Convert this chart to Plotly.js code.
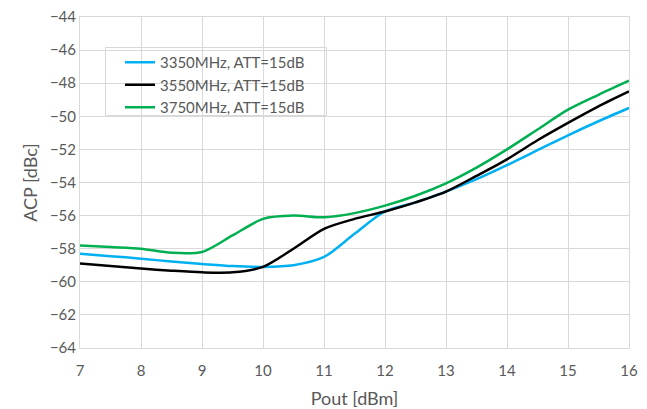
<!DOCTYPE html>
<html>
<head>
<meta charset="utf-8">
<script src="https://cdn.plot.ly/plotly-3.0.1.min.js"></script>
<style>html,body{margin:0;padding:0;background:#fff;}#chart{width:647px;height:409px;}</style>
</head>
<body>
<div id="chart"></div>
<script>
const pout = [7, 7.5, 8, 8.5, 9, 9.5, 10, 10.5, 11, 11.5, 12, 12.5, 13, 13.5, 14, 14.5, 15, 15.5, 16];
const acp3350 = [-58.3, -58.45, -58.6, -58.78, -58.92, -59.05, -59.1, -59.0, -58.5, -57.1, -55.75, -55.2, -54.55, -53.8, -52.95, -52.05, -51.15, -50.3, -49.5];
const acp3550 = [-58.9, -59.05, -59.2, -59.33, -59.43, -59.43, -59.1, -58.0, -56.8, -56.2, -55.75, -55.2, -54.55, -53.6, -52.6, -51.45, -50.4, -49.4, -48.5];
const acp3750 = [-57.8, -57.9, -58.0, -58.25, -58.2, -57.2, -56.2, -56.0, -56.1, -55.85, -55.4, -54.8, -54.05, -53.1, -52.0, -50.8, -49.6, -48.7, -47.85];
const names = ["3350MHz, ATT=15dB", "3550MHz, ATT=15dB", "3750MHz, ATT=15dB"];
const colors = ["#00b0f0", "#000000", "#00b050"];
const series = [acp3350, acp3550, acp3750];

const traces = series.map((s, i) => ({
  x: pout, y: s, name: names[i], type: "scatter", mode: "lines",
  line: {color: colors[i], width: 2.5, shape: "spline", smoothing: 0.8}
}));

const fam = "Lato, 'Open Sans', sans-serif";
const txt = "#595959";
// plot area: x 80..629, y 17..348 (px)
const px = v => (v - 80) / 549;
const py = v => 1 - (v - 17) / 331;
const layout = {
  width: 647, height: 409,
  margin: {l: 80, r: 18, t: 17, b: 61},
  paper_bgcolor: "#fff", plot_bgcolor: "#fff",
  font: {family: fam, size: 15, color: txt},
  showlegend: true,
  legend: {x: px(120), y: py(46), xanchor: "left", yanchor: "top", bgcolor: "rgba(0,0,0,0)",
    borderwidth: 0, itemwidth: 30,
    font: {family: fam, size: 15, color: txt}},
  shapes: [{type: "rect", xref: "paper", yref: "paper", x0: px(105.5), x1: px(326.5), y0: py(47.5), y1: py(115.5),
    line: {color: "#d9d9d9", width: 1}, fillcolor: "#ffffff", layer: "below"}],
  xaxis: {range: [7, 16], dtick: 1, tick0: 7, showgrid: true, gridcolor: "#d9d9d9", gridwidth: 1,
    showline: true, linecolor: "#d9d9d9", linewidth: 1, mirror: true, zeroline: false, ticks: "",
    ticklabelstandoff: 9,
    title: {text: "Pout [dBm]", font: {family: fam, size: 18, color: txt}, standoff: 14},
    tickfont: {family: fam, size: 15, color: txt}},
  yaxis: {range: [-64, -44], dtick: 2, showgrid: true, gridcolor: "#d9d9d9", gridwidth: 1,
    showline: true, linecolor: "#d9d9d9", linewidth: 1, mirror: true, zeroline: false, ticks: "",
    title: {text: "ACP [dBc]", font: {family: fam, size: 18, color: txt}, standoff: 7},
    tickfont: {family: fam, size: 15, color: txt}}
};
Plotly.newPlot("chart", traces, layout, {displayModeBar: false, staticPlot: true});
</script>
</body>
</html>
